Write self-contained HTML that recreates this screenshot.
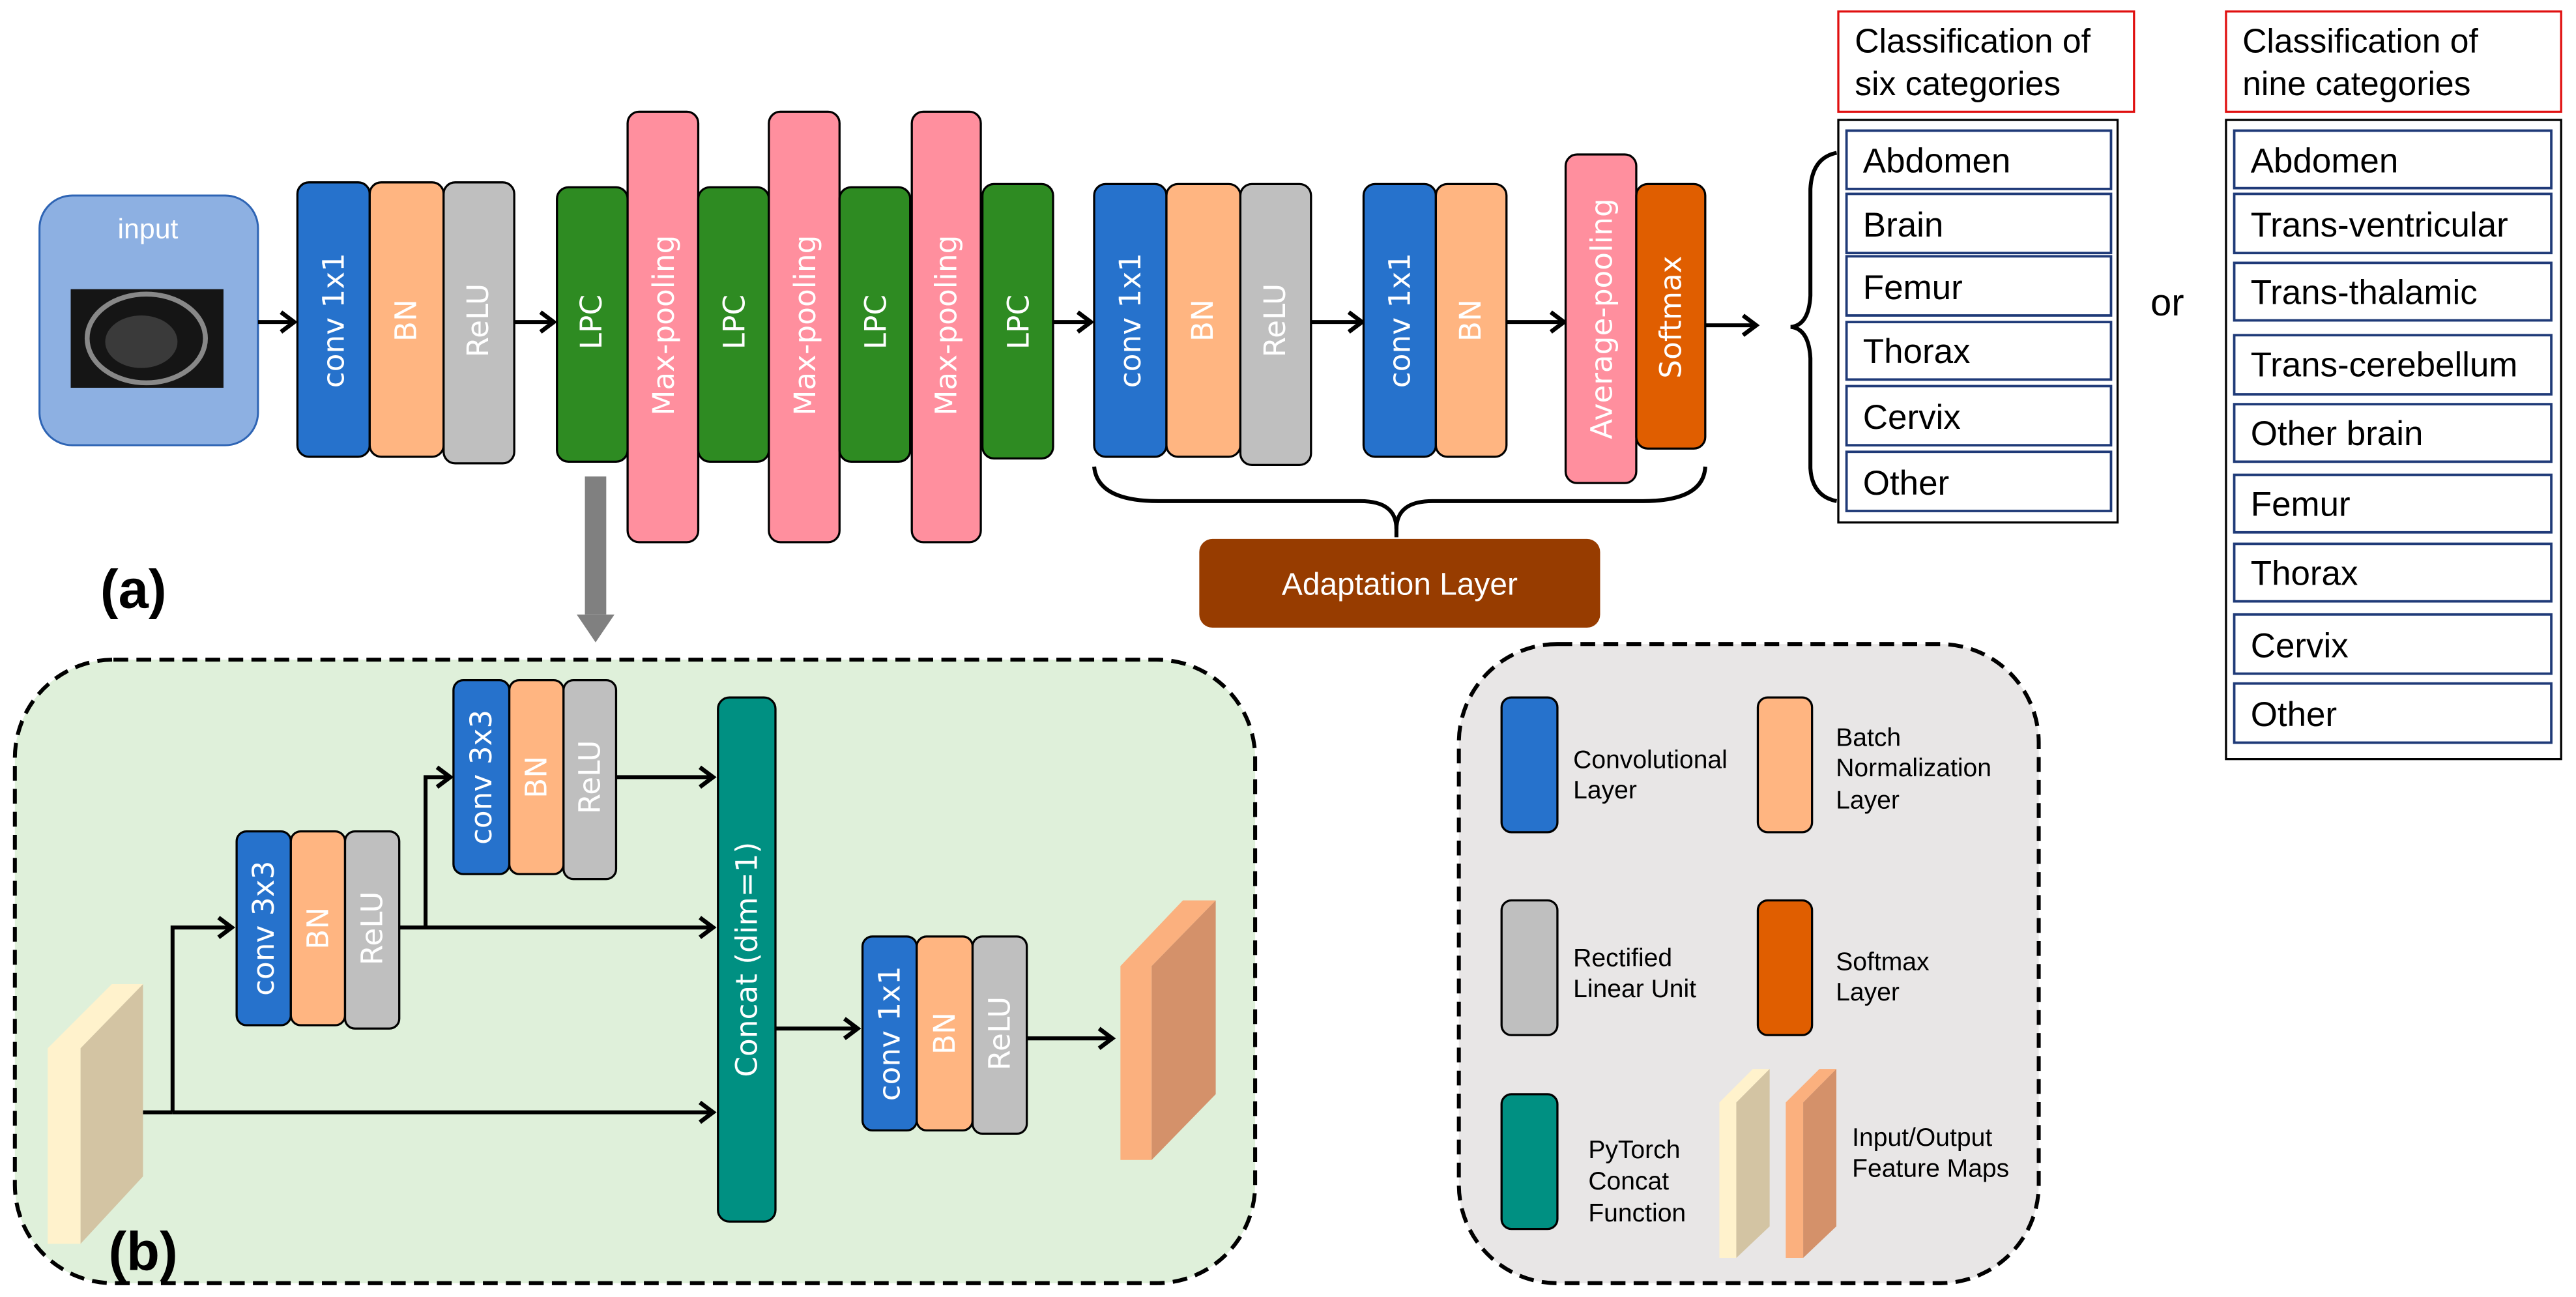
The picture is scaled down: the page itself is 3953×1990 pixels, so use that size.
<!DOCTYPE html>
<html><head><meta charset="utf-8"><style>
html,body{margin:0;padding:0;background:#fff;}
svg{display:block;}
.v{font-family:"DejaVu Sans",sans-serif;font-size:18px;fill:#fff;}
.b{stroke:#000;stroke-width:1.3;}
.t{font-family:"Liberation Sans",sans-serif;fill:#000;}
</style></head><body>
<svg width="3953" height="1990" viewBox="0 0 1568 789.4" xmlns="http://www.w3.org/2000/svg">
<defs>
<marker id="ah" markerUnits="userSpaceOnUse" markerWidth="14" markerHeight="16" refX="10" refY="7" orient="auto">
<path d="M2,1 L10,7 L2,13" fill="none" stroke="#000" stroke-width="2.6"/>
</marker>
</defs>

<!-- input -->
<rect x="24" y="119" width="133" height="152" rx="20" fill="#8db0e2" stroke="#2e64b4" stroke-width="1.2"/>
<text x="90" y="145" text-anchor="middle" font-family="Liberation Sans,sans-serif" font-size="17" fill="#fff">input</text>
<rect x="43" y="176" width="93" height="60" fill="#151515"/>
<ellipse cx="89" cy="206" rx="36" ry="27" fill="none" stroke="#888" stroke-width="3"/>
<ellipse cx="86" cy="208" rx="22" ry="16" fill="#3a3a3a"/>

<g fill="none" stroke="#000" stroke-width="2.4" marker-end="url(#ah)">
<line x1="157" y1="196" x2="179" y2="196"/>
<line x1="313" y1="196" x2="337" y2="196"/>
<line x1="641" y1="196" x2="664" y2="196"/>
<line x1="798" y1="196" x2="829" y2="196"/>
<line x1="917" y1="196" x2="952" y2="196"/>
<line x1="1038" y1="198" x2="1069" y2="198"/>
</g>

<!-- first block -->
<rect class="b" x="181" y="111" width="44" height="167" rx="7" fill="#2672cc"/>
<rect class="b" x="225" y="111" width="45" height="167" rx="7" fill="#ffb581"/>
<rect class="b" x="270" y="111" width="43" height="171" rx="7" fill="#bfbfbf"/>
<text class="v" transform="translate(203,195) rotate(-90)" text-anchor="middle" dominant-baseline="central">conv 1x1</text>
<text class="v" transform="translate(247,195) rotate(-90)" text-anchor="middle" dominant-baseline="central">BN</text>
<text class="v" transform="translate(291,195) rotate(-90)" text-anchor="middle" dominant-baseline="central">ReLU</text>

<!-- LPC + maxpool -->
<g>
<rect class="b" x="339" y="114" width="43" height="167" rx="7" fill="#2e8b22"/>
<rect class="b" x="382" y="68" width="43" height="262" rx="7" fill="#ff8f9e"/>
<rect class="b" x="425" y="114" width="43" height="167" rx="7" fill="#2e8b22"/>
<rect class="b" x="468" y="68" width="43" height="262" rx="7" fill="#ff8f9e"/>
<rect class="b" x="511" y="114" width="43" height="167" rx="7" fill="#2e8b22"/>
<rect class="b" x="555" y="68" width="42" height="262" rx="7" fill="#ff8f9e"/>
<rect class="b" x="598" y="112" width="43" height="167" rx="7" fill="#2e8b22"/>
</g>
<text class="v" transform="translate(360,196) rotate(-90)" text-anchor="middle" dominant-baseline="central">LPC</text>
<text class="v" transform="translate(404,198) rotate(-90)" text-anchor="middle" dominant-baseline="central">Max-pooling</text>
<text class="v" transform="translate(447,196) rotate(-90)" text-anchor="middle" dominant-baseline="central">LPC</text>
<text class="v" transform="translate(490,198) rotate(-90)" text-anchor="middle" dominant-baseline="central">Max-pooling</text>
<text class="v" transform="translate(533,196) rotate(-90)" text-anchor="middle" dominant-baseline="central">LPC</text>
<text class="v" transform="translate(576,198) rotate(-90)" text-anchor="middle" dominant-baseline="central">Max-pooling</text>
<text class="v" transform="translate(620,196) rotate(-90)" text-anchor="middle" dominant-baseline="central">LPC</text>

<!-- adaptation group -->
<rect class="b" x="666" y="112" width="44" height="166" rx="7" fill="#2672cc"/>
<rect class="b" x="710" y="112" width="45" height="166" rx="7" fill="#ffb581"/>
<rect class="b" x="755" y="112" width="43" height="171" rx="7" fill="#bfbfbf"/>
<rect class="b" x="830" y="112" width="44" height="166" rx="7" fill="#2672cc"/>
<rect class="b" x="874" y="112" width="43" height="166" rx="7" fill="#ffb581"/>
<rect class="b" x="953" y="94" width="43" height="200" rx="7" fill="#ff8f9e"/>
<rect class="b" x="996" y="112" width="42" height="161" rx="7" fill="#e05e00"/>
<text class="v" transform="translate(688,195) rotate(-90)" text-anchor="middle" dominant-baseline="central">conv 1x1</text>
<text class="v" transform="translate(732,195) rotate(-90)" text-anchor="middle" dominant-baseline="central">BN</text>
<text class="v" transform="translate(776,195) rotate(-90)" text-anchor="middle" dominant-baseline="central">ReLU</text>
<text class="v" transform="translate(852,195) rotate(-90)" text-anchor="middle" dominant-baseline="central">conv 1x1</text>
<text class="v" transform="translate(895,195) rotate(-90)" text-anchor="middle" dominant-baseline="central">BN</text>
<text class="v" transform="translate(975,194) rotate(-90)" text-anchor="middle" dominant-baseline="central">Average-pooling</text>
<text class="v" transform="translate(1017,193) rotate(-90)" text-anchor="middle" dominant-baseline="central">Softmax</text>

<!-- bottom brace -->
<path d="M666,284 Q668,305 705,305 L828,305 Q850,305 850,322 Q850,305 872,305 L1000,305 Q1037,305 1038,284" fill="none" stroke="#000" stroke-width="2.4"/>
<line x1="850" y1="318" x2="850" y2="327" stroke="#000" stroke-width="2.4"/>
<rect x="730" y="328" width="244" height="54" rx="8" fill="#973c00"/>
<text x="852" y="362" text-anchor="middle" font-family="Liberation Sans,sans-serif" font-size="19" fill="#fff">Adaptation Layer</text>

<!-- left curly brace -->
<path d="M1118,93 Q1103,96 1102,115 L1102,180 Q1101,198 1090,199 Q1101,200 1102,218 L1102,285 Q1103,302 1118,305" fill="none" stroke="#000" stroke-width="2.4"/>

<!-- six categories -->
<rect x="1119" y="7" width="180" height="61" fill="#fff" stroke="#e01010" stroke-width="1.3"/>
<text class="t" x="1129" y="32" font-size="20.5">Classification of</text>
<text class="t" x="1129" y="58" font-size="20.5">six categories</text>
<rect x="1119" y="73" width="170" height="245" fill="#fff" stroke="#000" stroke-width="1.3"/>
<g fill="#fff" stroke="#1f3a78" stroke-width="1.5">
<rect x="1124" y="79.5" width="161" height="35.5"/>
<rect x="1124" y="118" width="161" height="36"/>
<rect x="1124" y="156" width="161" height="36"/>
<rect x="1124" y="196" width="161" height="35"/>
<rect x="1124" y="235" width="161" height="36"/>
<rect x="1124" y="275" width="161" height="36"/>
</g>
<g class="t" font-size="21">
<text x="1134" y="105">Abdomen</text>
<text x="1134" y="144">Brain</text>
<text x="1134" y="182">Femur</text>
<text x="1134" y="221">Thorax</text>
<text x="1134" y="261">Cervix</text>
<text x="1134" y="301">Other</text>
</g>
<text class="t" x="1309" y="192" font-size="23">or</text>

<!-- nine categories -->
<rect x="1355" y="7" width="204" height="61" fill="#fff" stroke="#e01010" stroke-width="1.3"/>
<text class="t" x="1365" y="32" font-size="20.5">Classification of</text>
<text class="t" x="1365" y="58" font-size="20.5">nine categories</text>
<rect x="1355" y="73" width="204" height="389" fill="#fff" stroke="#000" stroke-width="1.3"/>
<g fill="#fff" stroke="#1f3a78" stroke-width="1.5">
<rect x="1360" y="79.5" width="193" height="35"/>
<rect x="1360" y="118" width="193" height="36"/>
<rect x="1360" y="160" width="193" height="35"/>
<rect x="1360" y="204" width="193" height="36"/>
<rect x="1360" y="246" width="193" height="35"/>
<rect x="1360" y="289" width="193" height="35"/>
<rect x="1360" y="331" width="193" height="35"/>
<rect x="1360" y="374" width="193" height="36"/>
<rect x="1360" y="416" width="193" height="36"/>
</g>
<g class="t" font-size="21">
<text x="1370" y="105">Abdomen</text>
<text x="1370" y="144">Trans-ventricular</text>
<text x="1370" y="185">Trans-thalamic</text>
<text x="1370" y="229">Trans-cerebellum</text>
<text x="1370" y="271">Other brain</text>
<text x="1370" y="314">Femur</text>
<text x="1370" y="356">Thorax</text>
<text x="1370" y="400">Cervix</text>
<text x="1370" y="442">Other</text>
</g>

<!-- gray arrow -->
<rect x="356" y="290" width="13" height="84" fill="#808080"/>
<polygon points="351,374 374,374 362.5,391" fill="#808080"/>
<text x="61" y="370" font-family="Liberation Sans,sans-serif" font-weight="bold" font-size="33" fill="#000">(a)</text>

<!-- (b) panel -->
<rect x="9" y="401.5" width="755" height="379.5" rx="60" fill="#dff0da" stroke="#000" stroke-width="2.4" stroke-dasharray="9,5"/>
<g fill="none" stroke="#000" stroke-width="2.4">
<line x1="87" y1="677" x2="105" y2="677"/>
<polyline points="105,677 105,564.5 141,564.5" marker-end="url(#ah)"/>
<line x1="105" y1="677" x2="434" y2="677" marker-end="url(#ah)"/>
<line x1="243" y1="564.5" x2="434" y2="564.5" marker-end="url(#ah)"/>
<polyline points="259,564.5 259,473 274,473" marker-end="url(#ah)"/>
<line x1="375" y1="473" x2="434" y2="473" marker-end="url(#ah)"/>
<line x1="472" y1="626" x2="522" y2="626" marker-end="url(#ah)"/>
<line x1="625" y1="632" x2="677" y2="632" marker-end="url(#ah)"/>
</g>
<polygon points="29,638 68,599 87,599 49,638 49,757 29,757" fill="#fff2cc"/>
<polygon points="49,638 87,599 87,716 49,757" fill="#d3c4a3"/>
<polygon points="682,588 720,548 740,548 701,588 701,706 682,706" fill="#fbb07e"/>
<polygon points="701,588 740,548 740,666 701,706" fill="#d4916a"/>

<rect class="b" x="144" y="506" width="33" height="118" rx="6" fill="#2672cc"/>
<rect class="b" x="177" y="506" width="33" height="118" rx="6" fill="#ffb581"/>
<rect class="b" x="210" y="506" width="33" height="120" rx="6" fill="#bfbfbf"/>
<text class="v" transform="translate(160.5,565) rotate(-90)" text-anchor="middle" dominant-baseline="central">conv 3x3</text>
<text class="v" transform="translate(193.5,565) rotate(-90)" text-anchor="middle" dominant-baseline="central">BN</text>
<text class="v" transform="translate(226.5,565) rotate(-90)" text-anchor="middle" dominant-baseline="central">ReLU</text>

<rect class="b" x="276" y="414" width="34" height="118" rx="6" fill="#2672cc"/>
<rect class="b" x="310" y="414" width="33" height="118" rx="6" fill="#ffb581"/>
<rect class="b" x="343" y="414" width="32" height="121" rx="6" fill="#bfbfbf"/>
<text class="v" transform="translate(293,473) rotate(-90)" text-anchor="middle" dominant-baseline="central">conv 3x3</text>
<text class="v" transform="translate(326.5,473) rotate(-90)" text-anchor="middle" dominant-baseline="central">BN</text>
<text class="v" transform="translate(359,473) rotate(-90)" text-anchor="middle" dominant-baseline="central">ReLU</text>

<rect class="b" x="437" y="424.5" width="35" height="319" rx="7" fill="#009082"/>
<text class="v" transform="translate(454.5,584) rotate(-90)" text-anchor="middle" dominant-baseline="central">Concat (dim=1)</text>

<rect class="b" x="525" y="570" width="33" height="118" rx="6" fill="#2672cc"/>
<rect class="b" x="558" y="570" width="34" height="118" rx="6" fill="#ffb581"/>
<rect class="b" x="592" y="570" width="33" height="120" rx="6" fill="#bfbfbf"/>
<text class="v" transform="translate(541.5,629) rotate(-90)" text-anchor="middle" dominant-baseline="central">conv 1x1</text>
<text class="v" transform="translate(575,629) rotate(-90)" text-anchor="middle" dominant-baseline="central">BN</text>
<text class="v" transform="translate(608.5,629) rotate(-90)" text-anchor="middle" dominant-baseline="central">ReLU</text>

<text x="66" y="773" font-family="Liberation Sans,sans-serif" font-weight="bold" font-size="33" fill="#000">(b)</text>

<!-- legend -->
<rect x="888" y="392" width="353" height="389" rx="60" fill="#e8e6e6" stroke="#000" stroke-width="2.4" stroke-dasharray="9,5"/>
<rect class="b" x="914" y="424.5" width="34" height="82" rx="6" fill="#2672cc"/>
<rect class="b" x="1070" y="424.5" width="33" height="82" rx="6" fill="#ffb581"/>
<rect class="b" x="914" y="548" width="34" height="82" rx="6" fill="#bfbfbf"/>
<rect class="b" x="1070" y="548" width="33" height="82" rx="6" fill="#e05e00"/>
<rect class="b" x="914" y="666" width="34" height="82" rx="6" fill="#009082"/>
<polygon points="1046.6,671 1067,650.6 1077.2,650.6 1056.9,671 1056.9,765.6 1046.6,765.6" fill="#fff2cc"/>
<polygon points="1056.9,671 1077.2,650.6 1077.2,746.4 1056.9,765.6" fill="#d3c4a3"/>
<polygon points="1087,671 1107.5,650.6 1117.8,650.6 1097.6,671 1097.6,765.6 1087,765.6" fill="#fbb07e"/>
<polygon points="1097.6,671 1117.8,650.6 1117.8,746.4 1097.6,765.6" fill="#d4916a"/>
<g class="t" font-size="15.5">
<text x="957.6" y="467.5">Convolutional</text>
<text x="957.6" y="486">Layer</text>
<text x="1117.5" y="454">Batch</text>
<text x="1117.5" y="472.5">Normalization</text>
<text x="1117.5" y="492">Layer</text>
<text x="957.6" y="588">Rectified</text>
<text x="957.6" y="607">Linear Unit</text>
<text x="1117.5" y="590.5">Softmax</text>
<text x="1117.5" y="609">Layer</text>
<text x="966.8" y="705">PyTorch</text>
<text x="966.8" y="724">Concat</text>
<text x="966.8" y="743.4">Function</text>
<text x="1127.4" y="697.4">Input/Output</text>
<text x="1127.4" y="716.3">Feature Maps</text>
</g>
</svg>
</body></html>
